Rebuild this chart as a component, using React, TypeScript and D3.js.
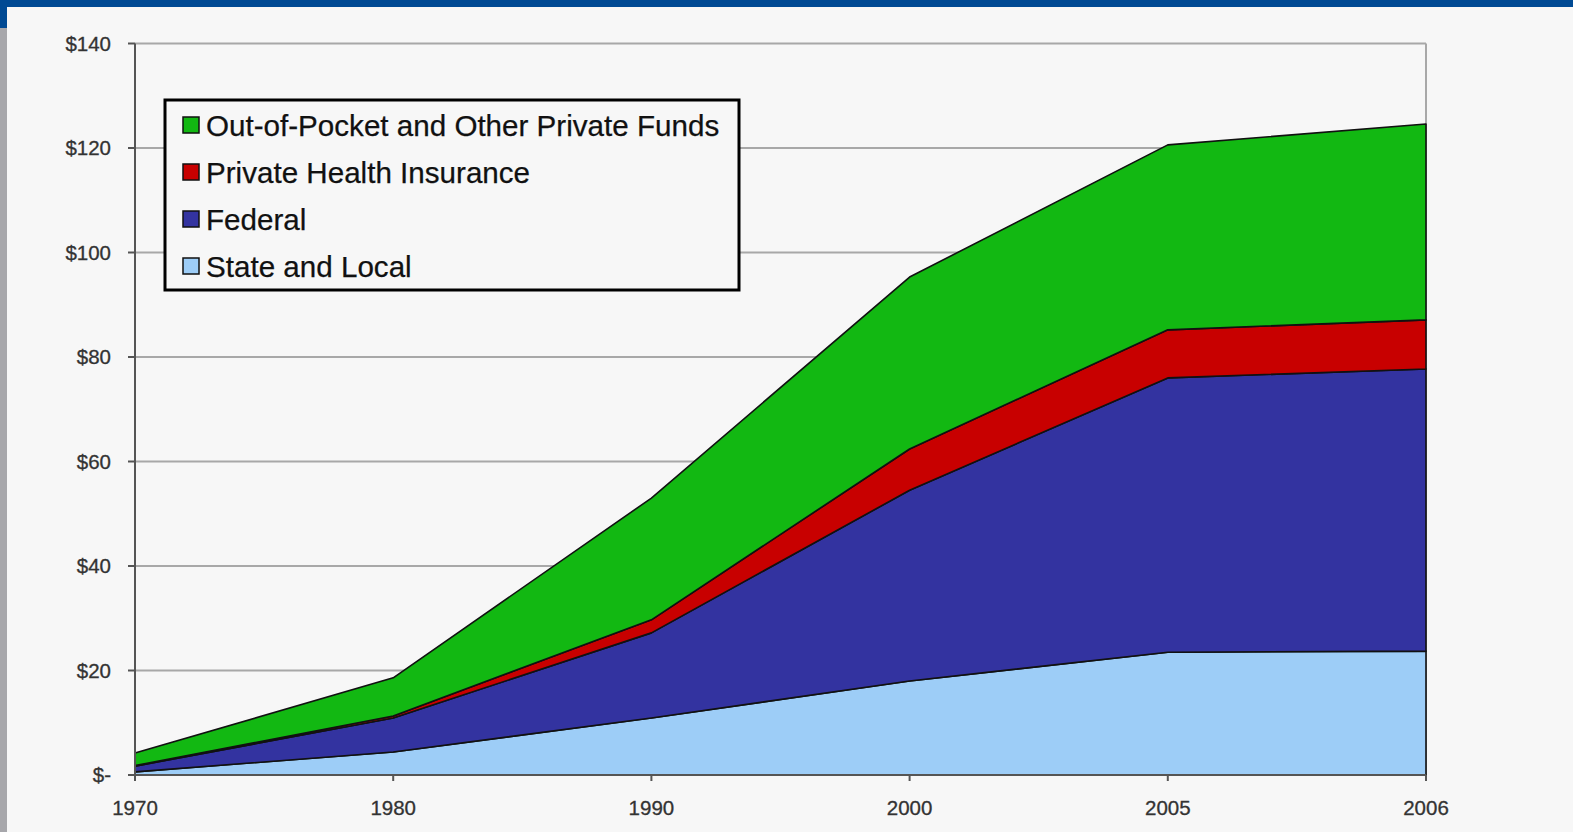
import React from 'react';
import * as d3 from 'd3';

const years = ['1970', '1980', '1990', '2000', '2005', '2006'];
const stateLocal = [0.6, 4.4, 10.9, 18.0, 23.5, 23.7];
const federal = [1.1, 6.5, 16.3, 36.5, 52.5, 54.0];
const privateInsurance = [0.1, 0.4, 2.5, 7.9, 9.2, 9.4];
const outOfPocket = [2.4, 7.3, 23.3, 32.9, 35.4, 37.5];

const yTicks = [0, 20, 40, 60, 80, 100, 120, 140];
const yTickLabels = ['$-', '$20', '$40', '$60', '$80', '$100', '$120', '$140'];

const seriesKeys = ['state', 'federal', 'phi', 'oop'];
const seriesNames: Record<string, string> = {
  oop: 'Out-of-Pocket and Other Private Funds',
  phi: 'Private Health Insurance',
  federal: 'Federal',
  state: 'State and Local',
};
const seriesColors: Record<string, string> = {
  oop: '#12b812',
  phi: '#c80000',
  federal: '#3333a0',
  state: '#9dcdf7',
};
const legendOrder = ['oop', 'phi', 'federal', 'state'];

const W = 1573;
const H = 832;

export default function App() {
  const rows = years.map((yr, i) => ({
    year: yr,
    state: stateLocal[i],
    federal: federal[i],
    phi: privateInsurance[i],
    oop: outOfPocket[i],
  }));
  const stacked = d3.stack<any>().keys(seriesKeys)(rows);
  const x = d3.scalePoint<string>().domain(years).range([135, 1426]);
  const y = d3.scaleLinear().domain([0, 140]).range([775, 43.5]);
  const area = d3
    .area<any>()
    .x((d) => x(d.data.year) as number)
    .y0((d) => y(d[0]))
    .y1((d) => y(d[1]));

  const font = '"Liberation Sans", Arial, sans-serif';
  const legendX = 165;
  const legendY = 100;
  const rowGap = 47;

  return (
    <svg
      width={W}
      height={H}
      style={{ position: 'absolute', left: 0, top: 0, display: 'block' }}
      fontFamily={font}
    >
      <rect x={0} y={0} width={W} height={H} fill="#f7f7f7" />
      <rect x={0} y={0} width={W} height={7} fill="#004a94" />
      <rect x={0} y={0} width={7} height={28} fill="#004a94" />
      <rect x={0} y={28} width={7} height={H - 28} fill="#a7a7ab" />

      {/* gridlines */}
      {yTicks.slice(1).map((t) => (
        <line key={t} x1={135} x2={1426} y1={y(t)} y2={y(t)} stroke="#a8a8a8" strokeWidth={2} />
      ))}
      <line x1={1426} x2={1426} y1={y(140)} y2={y(0)} stroke="#a8a8a8" strokeWidth={2} />

      {/* areas */}
      {stacked.map((s) => (
        <path
          key={s.key}
          d={area(s as any) || ''}
          fill={seriesColors[s.key]}
          stroke="#111"
          strokeWidth={1.6}
          strokeLinejoin="round"
        />
      ))}

      {/* axes */}
      <line x1={135} x2={135} y1={y(140)} y2={y(0)} stroke="#555" strokeWidth={2} />
      <line x1={135} x2={1426} y1={y(0)} y2={y(0)} stroke="#555" strokeWidth={2} />
      {yTicks.map((t, i) => (
        <g key={t}>
          <line x1={128} x2={135} y1={y(t)} y2={y(t)} stroke="#555" strokeWidth={2} />
          <text
            x={111}
            y={y(t)}
            dy="0.35em"
            textAnchor="end"
            fontSize={20.5}
            fill="#333"
            stroke="#333"
            strokeWidth={0.3}
          >
            {yTickLabels[i]}
          </text>
        </g>
      ))}
      {years.map((yr) => (
        <g key={yr}>
          <line x1={x(yr)} x2={x(yr)} y1={y(0)} y2={y(0) + 6} stroke="#555" strokeWidth={2} />
          <text
            x={x(yr)}
            y={y(0) + 33}
            dy="0.35em"
            textAnchor="middle"
            fontSize={20.5}
            fill="#333"
            stroke="#333"
            strokeWidth={0.3}
          >
            {yr}
          </text>
        </g>
      ))}

      {/* legend */}
      <rect
        x={legendX}
        y={legendY}
        width={574}
        height={190}
        fill="#f7f7f7"
        stroke="#000"
        strokeWidth={3}
      />
      {legendOrder.map((k, i) => {
        const cy = legendY + 25 + i * rowGap;
        return (
          <g key={k}>
            <rect
              x={183}
              y={cy - 8}
              width={16}
              height={16}
              fill={seriesColors[k]}
              stroke="#111"
              strokeWidth={1.5}
            />
            <text
              x={206}
              y={cy}
              dy="0.36em"
              fontSize={29.6}
              fill="#111"
              stroke="#111"
              strokeWidth={0.25}
            >
              {seriesNames[k]}
            </text>
          </g>
        );
      })}
    </svg>
  );
}
